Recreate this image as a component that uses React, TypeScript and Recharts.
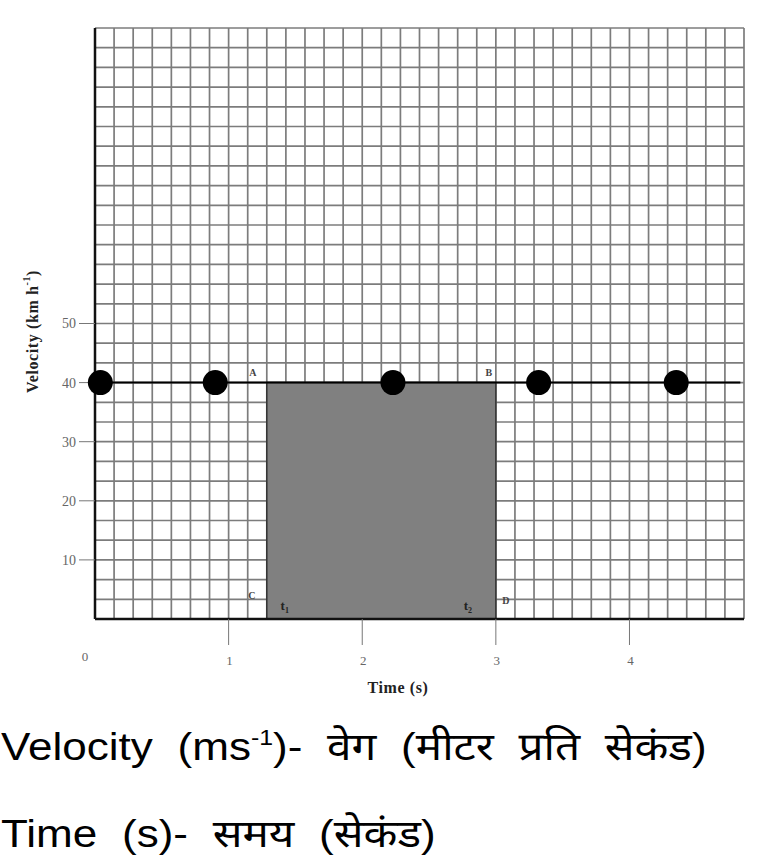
import React from 'react'
import {
  ComposedChart,
  XAxis,
  YAxis,
  CartesianGrid,
  Scatter,
  ReferenceArea,
  ReferenceLine,
  ReferenceDot,
  Label,
} from 'recharts'

// ---- data ----
const timeTicks = [0, 1, 2, 3, 4]
const velocityTicks = [10, 20, 30, 40, 50]
const sampleTimes = [0.04, 0.9, 2.23, 3.32, 4.35]
const sampleVelocity = [40, 40, 40, 40, 40]
const lineTimes = [-0.05, 4.83]
const constantVelocity = 40
const t1 = 9 / 7
const t2 = 3
const cornerNames = ['A', 'B', 'C', 'D']
const cornerTimes = [t1, t2, t1, t2]
const cornerVelocity = [40, 40, 0, 0]
const markerNames = ['1', '2']
const markerTimes = [t1, t2]

// graph paper: 7 squares per second, 3 squares per 10 km/h
const timeMax = 34 / 7
const velocityMax = 100
const gridTimes = Array.from({ length: 35 }, (_, k) => k / 7)
const gridVelocity = Array.from({ length: 31 }, (_, k) => (k * 10) / 3)

const serif = '"Liberation Serif", "Times New Roman", serif'
const sans = '"Liberation Sans", Arial, "Noto Sans Devanagari", "Lohit Devanagari", "FreeSans", sans-serif'

// label offsets from the corner they belong to
const cornerOffsets: Record<string, [number, number]> = {
  A: [-14, -7],
  B: [-7, -7],
  C: [-15, -20],
  D: [10, -15],
}
const markerOffsets: Record<string, [number, number]> = {
  '1': [18, -9],
  '2': [-28, -9],
}

const samples = sampleTimes.map((t, i) => ({ t, v: sampleVelocity[i] }))

const TimeTick = (props: any) => {
  const { x, y, payload } = props
  const isZero = payload.value === 0
  return (
    <g>
      {!isZero && <line x1={x} y1={y} x2={x} y2={y + 26} stroke="#777" strokeWidth={1} />}
      <text
        x={isZero ? x - 10 : x + 1}
        y={isZero ? y + 42 : y + 46}
        textAnchor="middle"
        fill="#666"
        fontSize={13}
        fontFamily={serif}
      >
        {payload.value}
      </text>
    </g>
  )
}

const VelocityLabel = (props: any) => {
  const { viewBox } = props
  const cx = viewBox.x + 32
  const cy = viewBox.y + viewBox.height / 2 + 8
  return (
    <text
      x={cx}
      y={cy}
      transform={`rotate(-90 ${cx} ${cy})`}
      textAnchor="middle"
      dominantBaseline="central"
      fontSize={16}
      letterSpacing={0.6}
      fontWeight="bold"
      fontFamily={serif}
      fill="#222"
    >
      Velocity (km h<tspan dy={-6} fontSize={10}>-1</tspan>
      <tspan dy={6}>)</tspan>
    </text>
  )
}

const TimeLabel = (props: any) => {
  const { viewBox } = props
  return (
    <text
      x={viewBox.x + 303}
      y={viewBox.y + 74}
      textAnchor="middle"
      fontSize={16}
      letterSpacing={0.6}
      fontWeight="bold"
      fontFamily={serif}
      fill="#222"
    >
      Time (s)
    </text>
  )
}

const Dot = (props: any) => <circle cx={props.cx} cy={props.cy} r={12.5} fill="#000" />

const captionStyle: React.CSSProperties = {
  position: 'absolute',
  left: 1,
  fontFamily: sans,
  fontSize: 39,
  lineHeight: '39px',
  wordSpacing: 11,
  whiteSpace: 'nowrap',
  color: '#000',
  transform: 'scaleX(1.13)',
  transformOrigin: 'left top',
}

export default function App() {
  return (
    <div style={{ position: 'absolute', left: 0, top: 0, width: 784, height: 868, background: '#fff' }}>
      <ComposedChart
        width={784}
        height={700}
        data={samples}
        margin={{ top: 28, right: 40, left: 0, bottom: 0 }}
      >
        <XAxis
          xAxisId="g"
          type="number"
          dataKey="t"
          domain={[0, timeMax]}
          ticks={gridTimes}
          interval={0}
          hide
        />
        <YAxis
          yAxisId="g"
          type="number"
          dataKey="v"
          domain={[0, velocityMax]}
          ticks={gridVelocity}
          interval={0}
          hide
        />
        <CartesianGrid xAxisId="g" yAxisId="g" stroke="#7c7c7c" strokeWidth={1.7} />
        <XAxis
          type="number"
          dataKey="t"
          domain={[0, timeMax]}
          ticks={timeTicks}
          interval={0}
          height={81}
          tickLine={false}
          tickSize={0}
          tickMargin={0}
          tick={<TimeTick />}
          axisLine={{ stroke: '#111', strokeWidth: 2.5 }}
        >
          <Label content={<TimeLabel />} />
        </XAxis>
        <YAxis
          type="number"
          dataKey="v"
          domain={[0, velocityMax]}
          ticks={velocityTicks}
          interval={0}
          width={95}
          tickSize={16}
          tickMargin={3}
          tickLine={{ stroke: '#777', strokeWidth: 1 }}
          tick={{ fill: '#666', fontSize: 14, fontFamily: serif }}
          axisLine={{ stroke: '#111', strokeWidth: 2.5 }}
        >
          <Label content={<VelocityLabel />} />
        </YAxis>
        <ReferenceArea
          x1={t1}
          x2={t2}
          y1={0}
          y2={constantVelocity}
          fill="#808080"
          fillOpacity={1}
          stroke="#333"
          strokeWidth={1.5}
        />
        <ReferenceLine
          segment={[
            { x: lineTimes[0], y: constantVelocity },
            { x: lineTimes[1], y: constantVelocity },
          ]}
          stroke="#000"
          strokeWidth={2}
          ifOverflow="visible"
        />
        <Scatter data={samples} dataKey="v" shape={<Dot />} isAnimationActive={false} />
        {cornerNames.map((name, i) => (
          <ReferenceDot
            key={name}
            x={cornerTimes[i]}
            y={cornerVelocity[i]}
            r={1}
            ifOverflow="visible"
            shape={(p: any) => (
              <text
                x={p.cx + cornerOffsets[name][0]}
                y={p.cy + cornerOffsets[name][1]}
                textAnchor="middle"
                fontSize={10}
                fontWeight="bold"
                fontFamily={serif}
                fill="#444"
              >
                {name}
              </text>
            )}
          />
        ))}
        {markerNames.map((name, i) => (
          <ReferenceDot
            key={'t' + name}
            x={markerTimes[i]}
            y={0}
            r={1}
            ifOverflow="visible"
            shape={(p: any) => (
              <text
                x={p.cx + markerOffsets[name][0]}
                y={p.cy + markerOffsets[name][1]}
                textAnchor="middle"
                fontSize={13}
                fontWeight="bold"
                fontFamily={serif}
                fill="#222"
              >
                t<tspan dy={3} fontSize={8}>{name}</tspan>
              </text>
            )}
          />
        ))}
      </ComposedChart>
      <div style={{ ...captionStyle, top: 727 }}>
        Velocity (ms
        <span style={{ fontSize: 22, position: 'relative', top: -15 }}>-1</span>)- वेग (मीटर प्रति सेकंड)
      </div>
      <div style={{ ...captionStyle, top: 814 }}>Time (s)- समय (सेकंड)</div>
    </div>
  )
}
